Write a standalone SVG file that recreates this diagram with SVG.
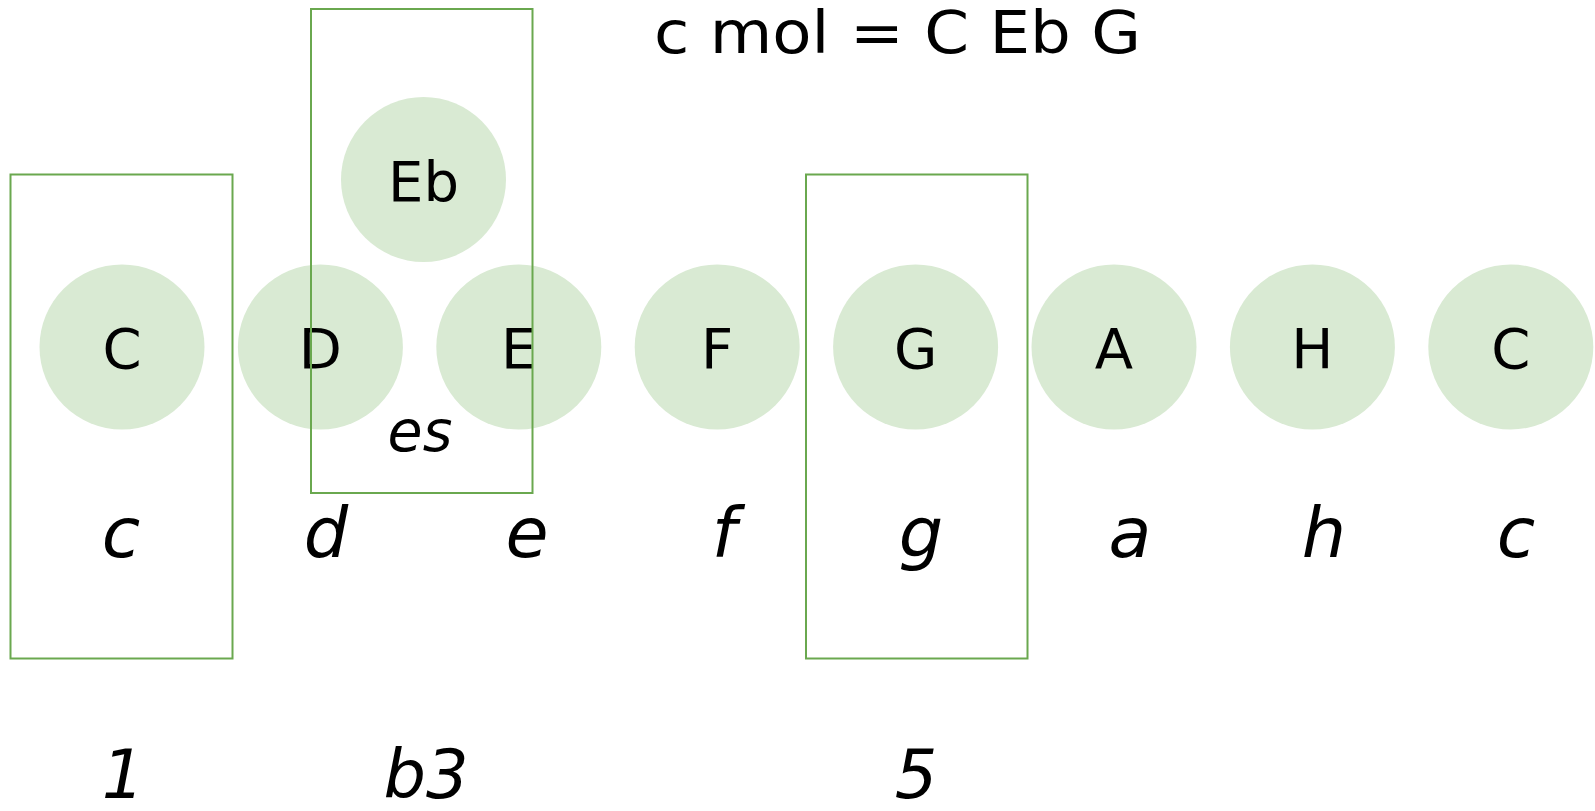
<svg xmlns="http://www.w3.org/2000/svg" width="1595" height="811" viewBox="0 0 1595 811">
<style>
.bg{fill:#ffffff}
.note{fill:#d9ead3;stroke:none}
.box{fill:none;stroke:#6aa84f;stroke-width:2}
.lbl{font-family:"DejaVu Sans",sans-serif;font-size:56px;fill:#000;text-anchor:middle}
.it{font-family:"DejaVu Sans",sans-serif;font-size:70px;font-style:italic;fill:#000;text-anchor:middle}
.num{font-family:"DejaVu Sans",sans-serif;font-size:67px;font-style:italic;fill:#000;text-anchor:middle}
.title{font-family:"DejaVu Sans",sans-serif;font-size:58px;fill:#000}
</style>
<rect class="bg" x="0" y="0" width="1595" height="811"/>
<text class="title" x="654" y="53" textLength="487" lengthAdjust="spacingAndGlyphs">c mol = C Eb G</text>
<g id="node-C1"><circle class="note" cx="122" cy="347" r="82.5"/><text class="lbl" x="122" y="368">C</text></g>
<g id="node-D"><circle class="note" cx="320.4" cy="347" r="82.5"/><text class="lbl" x="320.4" y="368">D</text></g>
<g id="node-E"><circle class="note" cx="518.8" cy="347" r="82.5"/><text class="lbl" x="518.8" y="368">E</text></g>
<g id="node-F"><circle class="note" cx="717.2" cy="347" r="82.5"/><text class="lbl" x="717.2" y="368">F</text></g>
<g id="node-G"><circle class="note" cx="915.6" cy="347" r="82.5"/><text class="lbl" x="915.6" y="368">G</text></g>
<g id="node-A"><circle class="note" cx="1114" cy="347" r="82.5"/><text class="lbl" x="1114" y="368">A</text></g>
<g id="node-H"><circle class="note" cx="1312.4" cy="347" r="82.5"/><text class="lbl" x="1312.4" y="368">H</text></g>
<g id="node-C2"><circle class="note" cx="1510.8" cy="347" r="82.5"/><text class="lbl" x="1510.8" y="368">C</text></g>
<g id="node-Eb"><circle class="note" cx="423.5" cy="179.5" r="82.5"/><text class="lbl" x="423.5" y="201">Eb</text></g>
<g id="names">
<text class="it" x="121" y="557">c</text>
<text class="it" x="326" y="557">d</text>
<text class="it" x="527" y="557">e</text>
<text class="it" x="724" y="557">f</text>
<text class="it" x="921" y="557">g</text>
<text class="it" x="1130" y="557">a</text>
<text class="it" x="1324" y="557">h</text>
<text class="it" x="1516" y="557">c</text>
<text class="it" x="420" y="451" style="font-size:57px">es</text>
</g>
<g id="degrees">
<text class="num" x="123" y="798">1</text>
<text class="num" x="426" y="798">b3</text>
<text class="num" x="916" y="798">5</text>
</g>
<g id="connectors"></g>
<g id="boxes">
<rect id="box-1" class="box" x="10.5" y="174.5" width="222" height="484"/>
<rect id="box-b3" class="box" x="311" y="9" width="221.5" height="484"/>
<rect id="box-5" class="box" x="806" y="174.5" width="221.5" height="484"/>
</g>
</svg>
